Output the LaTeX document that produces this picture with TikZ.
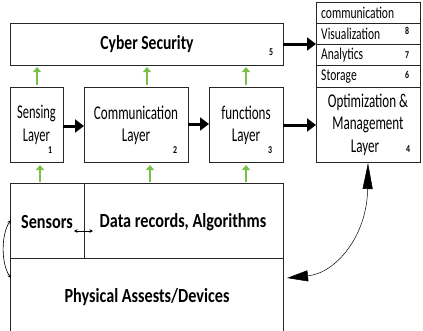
\documentclass[tikz,border=0pt]{standalone}
\usepackage{fontspec}
\usepackage{graphicx}
\setmainfont{Carlito}
\usetikzlibrary{arrows.meta}
\definecolor{upgreen}{RGB}{122,192,72}
% narrow text helper: horizontal squeeze only
\newcommand{\narrow}[2]{\scalebox{#1}[1]{#2}}
\tikzset{
  box/.style={draw=black!85, line width=0.8pt},
  layertxt/.style={font=\fontsize{19.5}{21}\selectfont, inner sep=0pt},
  rowtxt/.style={font=\fontsize{16.5}{18}\selectfont, anchor=west, inner sep=0pt},
  num/.style={font=\bfseries\fontsize{10.5}{11}\selectfont, inner sep=0pt},
  boldtxt/.style={font=\bfseries\fontsize{20}{22}\selectfont, inner sep=0pt},
  flow/.style={line width=3pt, -{Triangle[length=9pt,width=13pt]}},
  up/.style={draw=upgreen, line width=2pt, -{Triangle[length=5pt,width=8pt]}},
}
\begin{document}
\begin{tikzpicture}[x=1pt, y=-1pt]
\clip (0,0) rectangle (423,330);
\fill[white] (0,0) rectangle (423,330);

% top band
\draw[box] (10,23) rectangle (283,65);
\node[boldtxt] (cyber) at (147,44) {\narrow{0.78}{Cyber Security}};
\node[num] at (271,52) {\narrow{0.75}{5}};

% layer boxes
\draw[box] (10,87) rectangle (63,162);
\node[layertxt] (sense1) at (36.5,113) {\narrow{0.64}{Sensing}};
\node[layertxt] (sense2) at (36.5,137) {\narrow{0.64}{Layer}};
\node[num] at (50,150) {\narrow{0.75}{1}};

\draw[box] (84,87) rectangle (188,162);
\node[layertxt] (comm1) at (136,113) {\narrow{0.67}{Communication}};
\node[layertxt] (comm2) at (136,137) {\narrow{0.67}{Layer}};
\node[num] at (175,150) {\narrow{0.75}{2}};

\draw[box] (209,87) rectangle (283,162);
\node[layertxt] (func1) at (246,113) {\narrow{0.67}{functions}};
\node[layertxt] (func2) at (246,137) {\narrow{0.67}{Layer}};
\node[num] at (270,150) {\narrow{0.75}{3}};

% right stack
\draw[box] (316,2) rectangle (420,23);
\draw[box] (316,23) rectangle (420,44);
\draw[box] (316,44) rectangle (420,65);
\draw[box] (316,65) rectangle (420,87);
\draw[box] (316,87) rectangle (420,162);
\node[rowtxt] (rcomm) at (321,13) {\narrow{0.7}{communication}};
\node[rowtxt] (rvis) at (321,34) {\narrow{0.7}{Visualization}};
\node[rowtxt] (rana) at (321,55) {\narrow{0.7}{Analytics}};
\node[rowtxt] (rsto) at (321,76.5) {\narrow{0.7}{Storage}};
\node[num] at (407,31) {\narrow{0.75}{8}};
\node[num] at (407,55) {\narrow{0.75}{7}};
\node[num] at (407,75) {\narrow{0.75}{6}};
\node[layertxt] (opt1) at (368,102) {\narrow{0.67}{Optimization \&}};
\node[layertxt] (opt2) at (368,125) {\narrow{0.67}{Management}};
\node[layertxt] (opt3) at (365,148) {\narrow{0.67}{Layer}};
\node[num] at (408,149) {\narrow{0.75}{4}};

% bottom blocks
\draw[box] (10,183) rectangle (283,258);
\draw[box] (84,183) -- (84,258);
\draw[box] (10,258) rectangle (283,340);
\node[boldtxt] (sensors) at (47,222) {\narrow{0.81}{Sensors}};
\node[boldtxt] (data) at (183,222) {\narrow{0.81}{Data records, Algorithms}};
\node[boldtxt] (phys) at (147,297) {\narrow{0.81}{Physical Assests/Devices}};

% coordinates for connectors
\coordinate (c5r) at (283,44);
\coordinate (stl) at (316,44);
\coordinate (s1r) at (63,126);
\coordinate (s2l) at (84,126);
\coordinate (s2r) at (188,124);
\coordinate (s3l) at (209,124);
\coordinate (s3r) at (283,125);
\coordinate (s4l) at (316,125);

% main flow arrows
\draw[flow] (c5r) -- (stl);
\draw[flow] (s1r) -- (s2l);
\draw[flow] (s2r) -- (s3l);
\draw[flow] (s3r) -- (s4l);

% green upward arrows
\foreach \x in {37,147,246} {
  \draw[up] (\x,85) -- (\x,67);
}
\foreach \x in {40,150,246} {
  \draw[up] (\x,182) -- (\x,165);
}

% sensors <-> data records
\coordinate (da) at (74,231);
\coordinate (db) at (93,231);
\draw[line width=0.6pt, {Stealth[length=3.5pt,width=3.5pt]}-{Stealth[length=3.5pt,width=3.5pt]}] (da) -- (db);

% left loop between sensors and physical assets
\coordinate (la) at (11,220);
\coordinate (lb) at (11,278);
\draw[line width=0.6pt, {Stealth[length=4pt,width=3.5pt]}-{Stealth[length=4pt,width=3.5pt]}]
  (la) .. controls (1,234) and (1,264) .. (lb);

% right curved link between optimization layer and physical assets
\coordinate (ra) at (368,163);
\coordinate (rb) at (287,278);
\draw[line width=0.5pt, {Triangle[length=26pt,width=10pt]}-{Triangle[length=21pt,width=11pt]}]
  (ra) .. controls (367,236) and (336,273) .. (rb);
\end{tikzpicture}
\end{document}
